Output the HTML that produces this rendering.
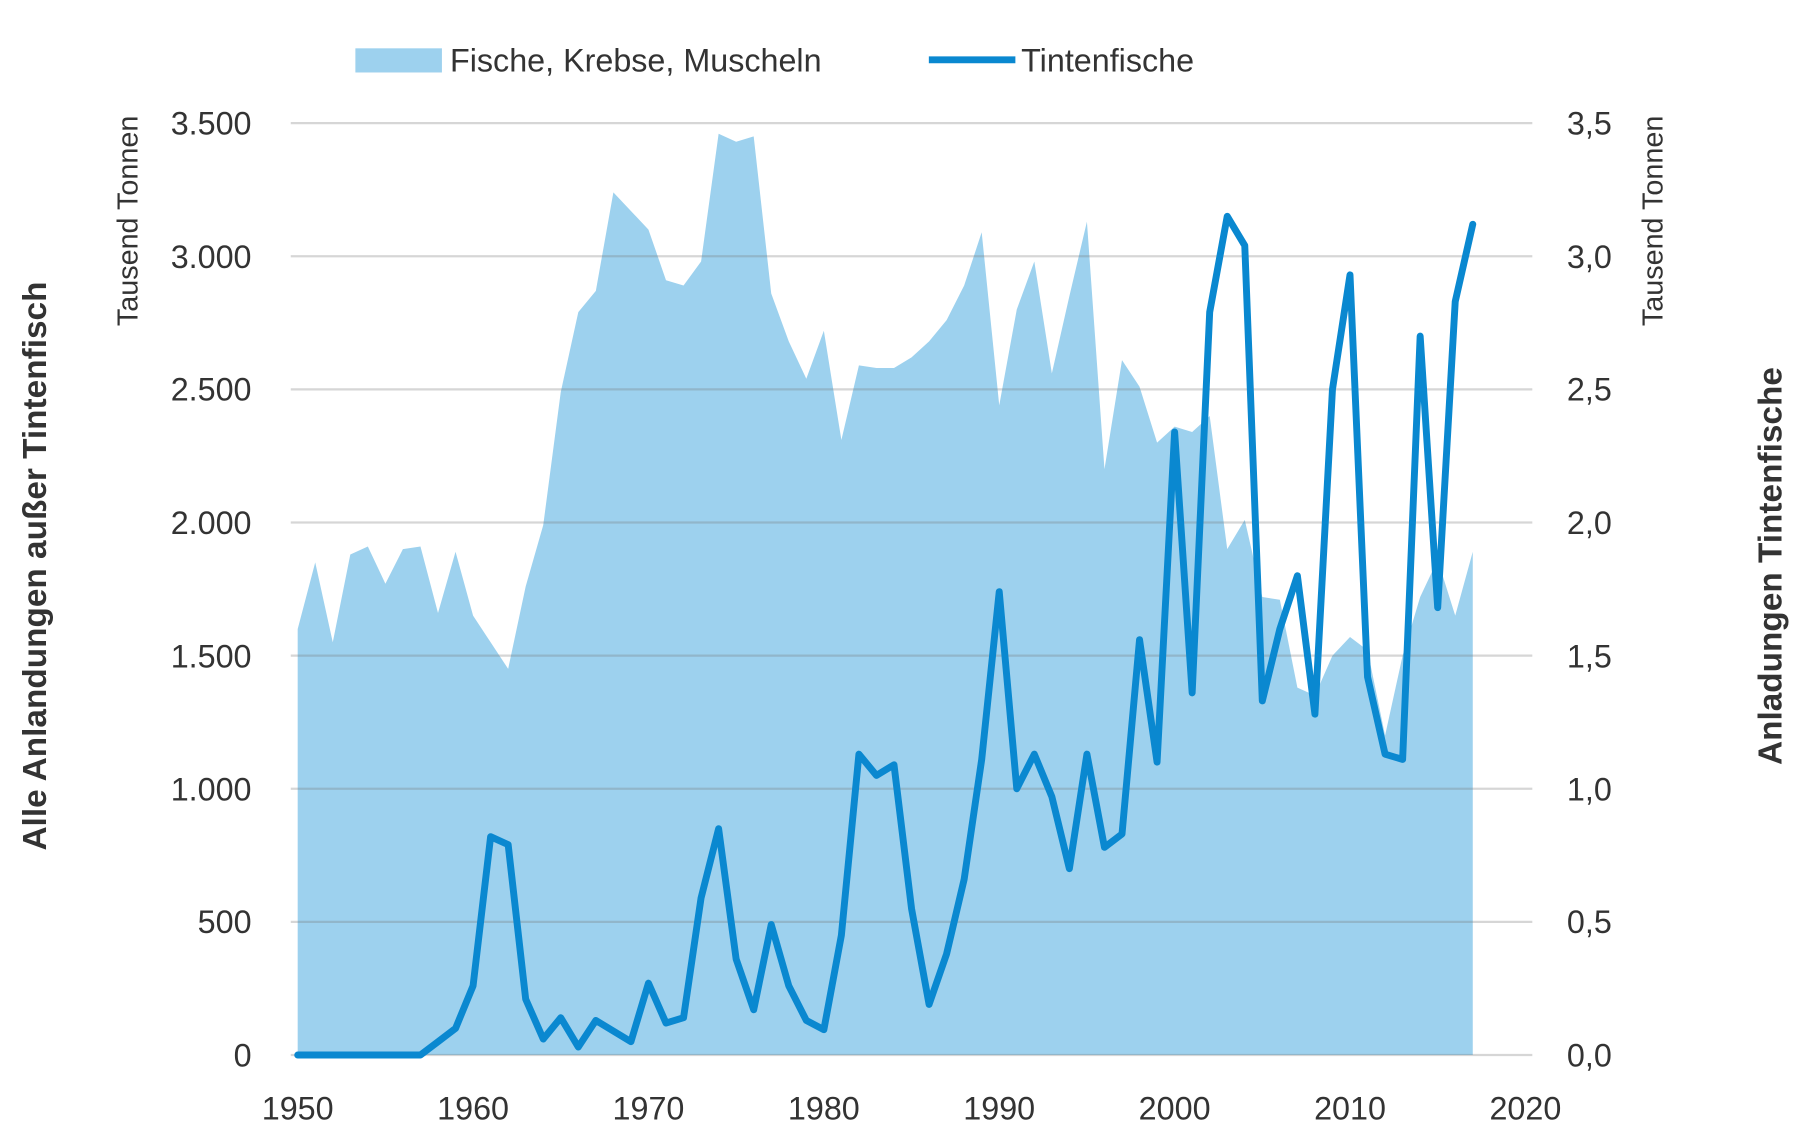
<!DOCTYPE html>
<html><head><meta charset="utf-8"><style>
html,body{margin:0;padding:0;background:#fff}
svg{display:block}
text{font-family:"Liberation Sans",sans-serif;fill:#333}
</style></head><body>
<svg id="s" width="1800" height="1139" viewBox="0 0 1560 990" preserveAspectRatio="none" xmlns="http://www.w3.org/2000/svg">
<g id="g"></g>
<rect x="308" y="42" width="75" height="21" fill="#9dd1ee"/>
<text x="390" y="62" font-size="28">Fische, Krebse, Muscheln</text>
<line x1="805" y1="52" x2="880" y2="52" stroke="#0a88d0" stroke-width="6"/>
<text x="885" y="62" font-size="28">Tintenfische</text>
<g font-size="28" text-anchor="end">
<text x="218" y="117">3.500</text><text x="218" y="233">3.000</text><text x="218" y="348">2.500</text><text x="218" y="464">2.000</text><text x="218" y="580">1.500</text><text x="218" y="696">1.000</text><text x="218" y="811">500</text><text x="218" y="927">0</text>
</g>
<g font-size="28">
<text x="1358" y="117">3,5</text><text x="1358" y="233">3,0</text><text x="1358" y="348">2,5</text><text x="1358" y="464">2,0</text><text x="1358" y="580">1,5</text><text x="1358" y="696">1,0</text><text x="1358" y="811">0,5</text><text x="1358" y="927">0,0</text>
</g>
<g font-size="28" text-anchor="middle">
<text x="258" y="973">1950</text><text x="410" y="973">1960</text><text x="562" y="973">1970</text><text x="714" y="973">1980</text><text x="866" y="973">1990</text><text x="1018" y="973">2000</text><text x="1170" y="973">2010</text><text x="1322" y="973">2020</text>
</g>
<text transform="translate(119,192) rotate(-90)" font-size="25" text-anchor="middle">Tausend Tonnen</text>
<text transform="translate(1441,192) rotate(-90)" font-size="25" text-anchor="middle">Tausend Tonnen</text>
<text transform="translate(40,492) rotate(-90)" font-size="29" font-weight="bold" text-anchor="middle">Alle Anlandungen außer Tintenfisch</text>
<text transform="translate(1544,492) rotate(-90)" font-size="29" font-weight="bold" text-anchor="middle">Anladungen Tintenfische</text>
</svg>
<script>
var A=[1600,1850,1550,1880,1910,1770,1900,1910,1660,1890,1650,1550,1450,1760,1990,2490,2790,2870,3240,3170,3100,2910,2890,2980,3460,3430,3450,2860,2680,2540,2720,2310,2590,2580,2580,2620,2680,2760,2890,3090,2440,2800,2980,2560,2850,3130,2200,2610,2510,2300,2360,2340,2400,1900,2010,1720,1710,1380,1350,1500,1570,1520,1200,1500,1720,1860,1650,1890];
var L=[0,0,0,0,0,0,0,0,50,100,260,820,790,210,60,140,30,130,90,50,270,120,140,590,850,360,170,490,260,130,95,450,1130,1050,1090,550,190,380,660,1110,1740,1000,1130,970,700,1130,780,830,1560,1100,2340,1360,2790,3150,3040,1330,1600,1800,1280,2500,2930,1420,1130,1110,2700,1680,2830,3120];
function X(i){return 258+i*15.2}function Y(v){return 917-v*0.23143}
var ns="http://www.w3.org/2000/svg",g=document.getElementById('g');
function el(t,a){var e=document.createElementNS(ns,t);for(var k in a)e.setAttribute(k,a[k]);g.appendChild(e);return e}
var d="M"+X(0)+","+Y(0);A.forEach(function(v,i){d+=" L"+X(i)+","+Y(v)});d+=" L"+X(A.length-1)+","+Y(0)+"Z";
el('path',{d:d,fill:'#9dd1ee'});
for(var v=0;v<=3500;v+=500)el('line',{x1:252,x2:1328,y1:Y(v),y2:Y(v),stroke:'rgba(120,120,120,0.3)','stroke-width':2});
var p="";L.forEach(function(v,i){p+=(i?" L":"M")+X(i)+","+Y(v)});
el('path',{d:p,fill:'none',stroke:'#0a88d0','stroke-width':6,'stroke-linejoin':'round','stroke-linecap':'round'});
</script>
</body></html>
